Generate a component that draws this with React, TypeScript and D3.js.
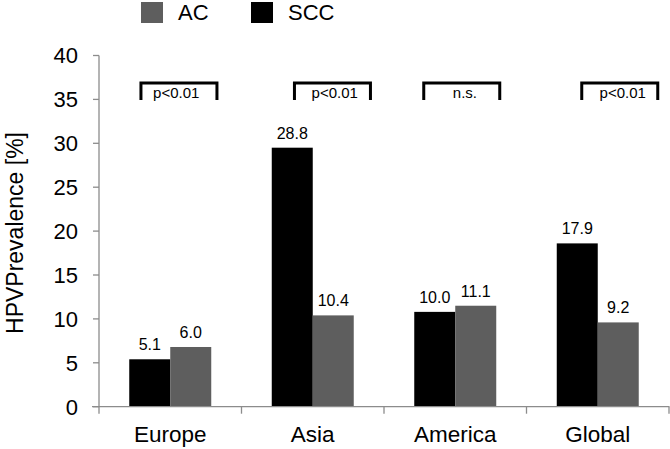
import React from "react";
import * as d3 from "d3";

const categories = ["Europe", "Asia", "America", "Global"];
const seriesNames = ["SCC", "AC"];
// bar heights as drawn in the figure
const sccValues = [5.4, 29.5, 10.8, 18.6];
const acValues = [6.8, 10.4, 11.5, 9.6];
// printed value labels
const sccLabels = ["5.1", "28.8", "10.0", "17.9"];
const acLabels = ["6.0", "10.4", "11.1", "9.2"];
const pLabels = ["p<0.01", "p<0.01", "n.s.", "p<0.01"];
const yTicks = [0, 5, 10, 15, 20, 25, 30, 35, 40];
const legendItems = ["AC", "SCC"];

const W = 670;
const H = 449;
const FONT = "'Liberation Sans', Arial, Helvetica, sans-serif";
const COLORS: Record<string, string> = { SCC: "#000000", AC: "#5e5e5e" };
const AXIS = "#8c8c8c";
// bracket placement (px offsets from category centre)
const bracketCenterOff = [8.7, 19.7, 6.5, 22];
const bracketTextOff = [6, 22, 9.7, 25];
const bracketW = 76;

export default function App() {
  const x = d3.scaleBand<string>().domain(categories).range([99, 669]).padding(0);
  const inner = d3
    .scaleBand<string>()
    .domain(seriesNames)
    .range([0, x.bandwidth()])
    .paddingInner(0)
    .paddingOuter(0.738);
  const y = d3.scaleLinear().domain([0, 40]).range([406.7, 55.5]);

  const series: Record<string, number[]> = { SCC: sccValues, AC: acValues };
  const labels: Record<string, string[]> = { SCC: sccLabels, AC: acLabels };
  const boundaries = [...categories.map((c) => x(c)!), x.range()[1]];

  return (
    <svg
      width={W}
      height={H}
      style={{ position: "absolute", left: 0, top: 0, background: "#fff" }}
      fontFamily={FONT}
    >
      <rect x={0} y={0} width={W} height={H} fill="#fff" />
      {/* legend */}
      {legendItems.map((name, i) => {
        const lx = 141 + i * 110;
        return (
          <g key={name}>
            <rect x={lx} y={2} width={22} height={21} fill={COLORS[name]} />
            <text x={lx + 37} y={20} fontSize={22} fill="#000">
              {name}
            </text>
          </g>
        );
      })}

      {/* y axis */}
      <line x1={99} x2={99} y1={y(40)} y2={y(0)} stroke={AXIS} strokeWidth={1.3} />
      {yTicks.map((t) => (
        <g key={t}>
          <line x1={93} x2={99} y1={y(t)} y2={y(t)} stroke={AXIS} strokeWidth={1.3} />
          <text x={78} y={y(t)} dy="0.36em" textAnchor="end" fontSize={22} fill="#000">
            {t}
          </text>
        </g>
      ))}
      <text
        transform={`translate(23,233) rotate(-90)`}
        textAnchor="middle"
        fontSize={23}
        fill="#000"
      >
        HPVPrevalence [%]
      </text>

      {/* bars */}
      {categories.map((c, ci) =>
        seriesNames.map((s) => {
          const bx = x(c)! + inner(s)!;
          const v = series[s][ci];
          return (
            <g key={c + s}>
              <rect
                x={bx}
                y={y(v)}
                width={inner.bandwidth()}
                height={y(0) - y(v)}
                fill={COLORS[s]}
              />
              <text
                x={bx + inner.bandwidth() / 2}
                y={y(v) - 9}
                textAnchor="middle"
                fontSize={16}
                fill="#000"
              >
                {labels[s][ci]}
              </text>
            </g>
          );
        })
      )}

      {/* x axis */}
      <line x1={92} x2={669.5} y1={y(0)} y2={y(0)} stroke={AXIS} strokeWidth={1.3} />
      {boundaries.map((b, i) => (
        <line key={i} x1={b} x2={b} y1={y(0)} y2={y(0) + 7} stroke={AXIS} strokeWidth={1.3} />
      ))}
      {categories.map((c) => (
        <text
          key={c}
          x={x(c)! + x.bandwidth() / 2}
          y={441.7}
          textAnchor="middle"
          fontSize={22.5}
          fill="#000"
        >
          {c}
        </text>
      ))}

      {/* significance brackets */}
      {categories.map((c, ci) => {
        const cx = x(c)! + x.bandwidth() / 2 + bracketCenterOff[ci];
        const x0 = cx - bracketW / 2;
        const x1 = cx + bracketW / 2;
        return (
          <g key={"b" + c}>
            <path
              d={`M${x0},100 L${x0},83 L${x1},83 L${x1},100`}
              fill="none"
              stroke="#000"
              strokeWidth={3}
            />
            <text
              x={x(c)! + x.bandwidth() / 2 + bracketTextOff[ci]}
              y={98}
              textAnchor="middle"
              fontSize={15}
              fill="#000"
            >
              {pLabels[ci]}
            </text>
          </g>
        );
      })}
    </svg>
  );
}
